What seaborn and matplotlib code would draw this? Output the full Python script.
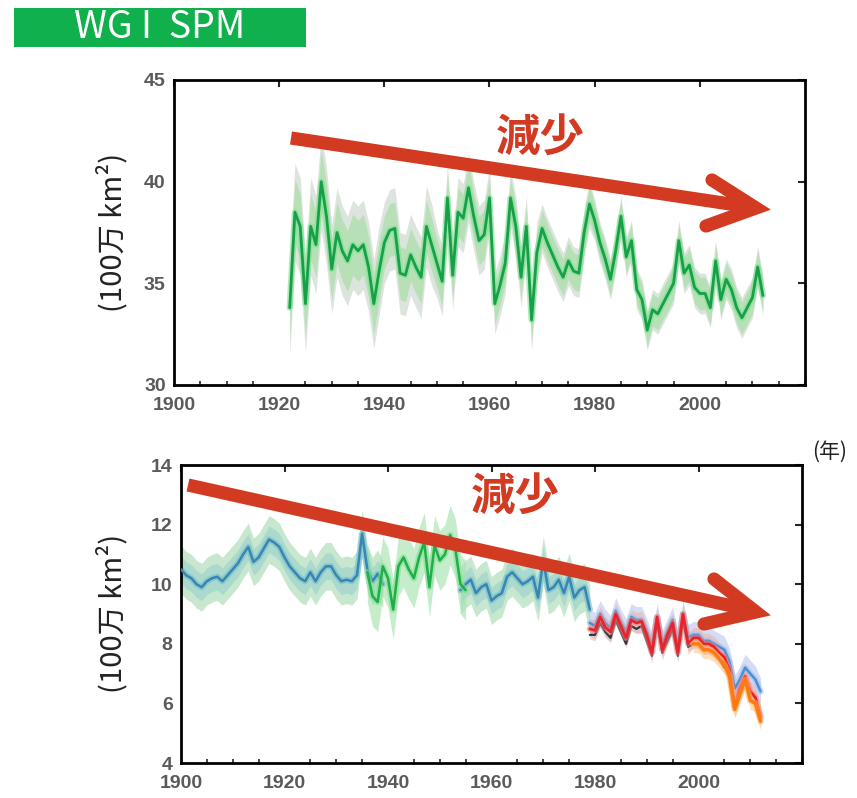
import numpy as np
import pandas as pd
import matplotlib
matplotlib.use("Agg")
import matplotlib.pyplot as plt
from matplotlib.lines import Line2D
from matplotlib.patches import Rectangle
import seaborn as sns

sns.set_style("white")
plt.rcParams['font.family'] = ['Liberation Sans', 'Noto Sans CJK JP', 'DejaVu Sans']

# ---------------- data ----------------
# Top panel: annual extent 1922-2012 (million km2)
top_start = 1922
top_values = [33.8, 38.5, 37.8, 34.0, 37.8, 36.9, 40.0, 38.3, 35.7, 37.5,
              36.6, 36.1, 36.9, 36.6, 36.9, 35.8, 34.0, 35.6, 37.0, 37.6,
              37.7, 35.5, 35.4, 36.4, 35.8, 35.3, 37.8, 36.9, 36.0, 35.1,
              39.2, 35.4, 38.5, 38.2, 39.7, 38.3, 37.1, 37.4, 39.2, 34.0,
              34.9, 36.0, 39.2, 37.8, 35.3, 37.8, 33.2, 36.5, 37.7, 37.0,
              36.4, 35.8, 35.3, 36.1, 35.6, 35.5, 37.5, 38.9, 38.1, 37.0,
              36.2, 35.2, 36.6, 38.3, 36.3, 37.1, 34.7, 34.2, 32.7, 33.7,
              33.5, 34.0, 34.5, 35.0, 37.1, 35.5, 35.9, 34.8, 34.5, 34.5,
              33.8, 36.1, 34.2, 35.2, 34.7, 33.8, 33.3, 33.8, 34.3, 35.8,
              34.4]
# uncertainty half-widths by decade (1920s ... 2010s)
top_spread_green = [1.6, 1.5, 1.3, 1.2, 1.0, 0.9, 0.8, 0.8, 0.8, 0.8]
top_spread_grey = [2.4, 2.2, 2.0, 1.7, 1.5, 1.2, 1.0, 1.0, 1.0, 1.0]

# Bottom panel: pre-satellite blue series 1900-1979 (gap 1940-1953)
blue_start = 1900
blue_values = [10.5, 10.3, 10.2, 10.0, 9.9, 10.1, 10.2, 10.25, 10.1, 10.3,
               10.5, 10.7, 11.0, 11.25, 10.75, 10.9, 11.2, 11.5, 11.4, 11.25,
               10.9, 10.6, 10.4, 10.2, 10.1, 10.4, 10.1, 10.4, 10.6, 10.6,
               10.3, 10.1, 10.15, 10.1, 10.3, 11.7, 10.5, 10.1, 10.35, 10.0,
               None, None, None, None, None, None, None, None, None, None,
               None, None, None, None, 9.8, 10.0, 10.15, 9.7, 9.9, 10.0,
               9.45, 9.6, 9.7, 10.25, 10.4, 10.2, 10.0, 10.1, 10.25, 9.55,
               10.8, 9.8, 9.9, 10.15, 9.7, 10.25, 9.55, 9.8, 9.9, 9.15]
# green series 1936-1955
green_start = 1936
green_values = [10.4, 9.6, 9.4, 10.6, 10.2, 9.15, 10.6, 10.9, 10.5, 10.2,
                10.9, 11.4, 9.9, 11.3, 10.8, 11.0, 11.65, 11.2, 10.0, 9.8]
# satellite-era series
sat_start = 1979
red_values = [8.5, 8.45, 8.9, 8.55, 8.4, 9.0, 8.6, 8.2, 8.8, 8.7,
              8.75, 8.3, 7.7, 8.9, 7.8, 8.3, 8.7, 7.7, 9.0, 8.0,
              8.2, 8.2, 8.0, 8.0, 7.9, 7.7, 7.55, 7.1, 5.9, 6.5,
              6.9, 6.4, 6.2, 5.55]
sblue_values = [8.7, 8.6, 9.0, 8.7, 8.5, 9.1, 8.7, 8.4, 8.9, 8.8,
                8.8, 8.4, 7.9, 8.9, 8.0, 8.4, 8.8, 7.9, 9.0, 8.2,
                8.3, 8.3, 8.1, 8.1, 8.0, 7.9, 7.8, 7.4, 6.5, 6.8,
                7.2, 7.0, 6.8, 6.4]
dark_values = [8.3, 8.3, 8.7, 8.4, 8.2, 8.8, 8.4, 8.0, 8.6, 8.5,
               8.6, 8.1, 7.6, 8.7, 7.7, 8.1, 8.5, 7.6, 8.8, 7.9,
               8.0, 8.0, 7.8, 7.8, 7.7, 7.5, 7.2]
orange_start = 1999
orange_values = [8.0, 8.0, 7.8, 7.8, 7.7, 7.5, 7.3, 6.9, 5.8, 6.3,
                 6.8, 6.1, 6.0, 5.4]

top_yticks = [30, 35, 40, 45]
bottom_yticks = [4, 6, 8, 10, 12, 14]
xticks = [1900, 1920, 1940, 1960, 1980, 2000]

W, H = 857, 798
RED = '#d33a22'


def series(start, vals):
    return pd.DataFrame({'year': np.arange(start, start + len(vals)),
                         'v': np.array([np.nan if v is None else v for v in vals], float)})


def segments(df):
    grp = df['v'].isna().cumsum()
    for _, g in df[df['v'].notna()].groupby(grp[df['v'].notna()]):
        yield g


def draw_line(ax, df, color, lw=1.8, glow=None, glow_lw=4.5, z=3):
    for g in segments(df):
        if glow:
            sns.lineplot(data=g, x='year', y='v', ax=ax, color=glow, linewidth=glow_lw,
                         estimator=None, alpha=0.6, zorder=z - 0.5)
        sns.lineplot(data=g, x='year', y='v', ax=ax, color=color, linewidth=lw,
                     estimator=None, zorder=z)


def draw_band(ax, df, spread, color, alpha, z=1):
    for g in segments(df):
        ax.fill_between(g['year'], g['v'] - spread, g['v'] + spread,
                        color=color, alpha=alpha, linewidth=0, zorder=z)


fig = plt.figure(figsize=(W / 100, H / 100), dpi=100)
ax1 = fig.add_axes([174 / W, 1 - 385 / H, (805 - 174) / W, 305 / H])
ax2 = fig.add_axes([181 / W, 1 - 763 / H, (802 - 181) / W, 298 / H])

# ---- top panel ----
top = series(top_start, top_values)
dec = ((top['year'] - 1920) // 10).astype(int)
sg = np.array(top_spread_green)[dec]
sgr = np.array(top_spread_grey)[dec]
ax1.fill_between(top['year'], top['v'] - sgr, top['v'] + sgr, color='#cfd8cf',
                 alpha=0.7, linewidth=0, zorder=1)
ax1.fill_between(top['year'], top['v'] - sg, top['v'] + sg, color='#a8e0a8',
                 alpha=0.7, linewidth=0, zorder=2)
draw_line(ax1, top, '#16a04a', lw=2.0, glow='#7ee08e')

# ---- bottom panel ----
blue = series(blue_start, blue_values)
green = series(green_start, green_values)
red = series(sat_start, red_values)
sblue = series(sat_start, sblue_values)
dark = series(sat_start, dark_values)
orange = series(orange_start, orange_values)

draw_band(ax2, blue, 0.8, '#a3d9b0', 0.6)
draw_band(ax2, blue, 0.45, '#8cc8cc', 0.45)
draw_band(ax2, green, 1.0, '#a6e3b0', 0.65)
draw_band(ax2, sblue, 0.45, '#b9c6ee', 0.6)
draw_band(ax2, red, 0.35, '#f0b0a0', 0.5)
draw_band(ax2, orange, 0.3, '#ffc890', 0.6)

draw_line(ax2, blue, '#3a85b4', lw=1.8, glow='#70c0c8')
draw_line(ax2, green, '#1fae4a', lw=1.8, glow='#80e090', z=4)
draw_line(ax2, sblue, '#4a90d0', lw=1.8, glow='#a0c0f0', z=4)
draw_line(ax2, dark, '#2a3a40', lw=1.6, z=5)
draw_line(ax2, red, '#e8232a', lw=2.0, glow='#f08080', z=6)
draw_line(ax2, orange, '#ff7a10', lw=2.4, glow='#ffb060', z=7)

# ---- axes styling ----
for ax, lims, yt in [(ax1, (30, 45), top_yticks), (ax2, (4, 14), bottom_yticks)]:
    ax.set_xlim(1900, 2020)
    ax.set_ylim(*lims)
    ax.set_xticks(xticks)
    ax.set_xticks(np.arange(1900, 2021, 5), minor=True)
    ax.set_yticks(yt)
    ax.set_xlabel('')
    ax.set_ylabel('')
    for s in ax.spines.values():
        s.set_visible(True)
        s.set_color('black')
        s.set_linewidth(2.0)
    ax.tick_params(axis='both', which='major', direction='in', length=5, width=1.5,
                   top=True, right=True, labelsize=14, labelcolor='#5a5a5a')
    ax.tick_params(axis='x', which='major', pad=9)
    ax.tick_params(axis='y', which='major', pad=6)
    ax.tick_params(axis='x', which='minor', direction='in', length=3, width=1.2,
                   top=False, bottom=True)
    for lab in ax.get_xticklabels() + ax.get_yticklabels():
        lab.set_fontweight('bold')
    ax.set_facecolor('white')

# y labels
for ycen in [232, 613]:
    fig.text(113 / W, 1 - ycen / H, '(100万 km²)', rotation=90, ha='center', va='center',
             fontsize=21, family=['Noto Sans CJK JP', 'DejaVu Sans'], color='#222222')

fig.text(830 / W, 1 - 452 / H, '(年)', ha='center', va='center', fontsize=15,
         family=['Noto Sans CJK JP', 'DejaVu Sans'], color='#222222')

# title box
fig.patches.append(Rectangle((14 / W, 1 - 47 / H), 292 / W, 39 / H,
                             transform=fig.transFigure, facecolor='#10b04c',
                             edgecolor='none'))
fig.text(160 / W, 1 - 28 / H, 'WG I  SPM', ha='center', va='center', fontsize=27,
         color='white', family=['Noto Sans CJK JP', 'DejaVu Sans'])


# arrows
def P(x, y):
    return x / W, 1 - y / H


def arrow(shaft, chevron):
    xs, ys = zip(*[P(*p) for p in shaft])
    fig.add_artist(Line2D(xs, ys, transform=fig.transFigure, color=RED, lw=9.5,
                          solid_capstyle='butt', zorder=10))
    xs, ys = zip(*[P(*p) for p in chevron])
    fig.add_artist(Line2D(xs, ys, transform=fig.transFigure, color=RED, lw=9.5,
                          solid_capstyle='round', solid_joinstyle='miter', zorder=10))


arrow([(291, 138), (750, 207)], [(712, 180), (756, 208), (706, 226)])
arrow([(188, 485), (750, 610)], [(714, 579), (756, 612), (704, 624)])

for (x, y) in [(540, 138), (515, 497)]:
    fig.text(x / W, 1 - y / H, '減少', ha='center', va='center', fontsize=32,
             fontweight='bold', color=RED, family=['Noto Sans CJK JP', 'DejaVu Sans'],
             zorder=11)

fig.savefig('out.png', dpi=100, facecolor='white')
